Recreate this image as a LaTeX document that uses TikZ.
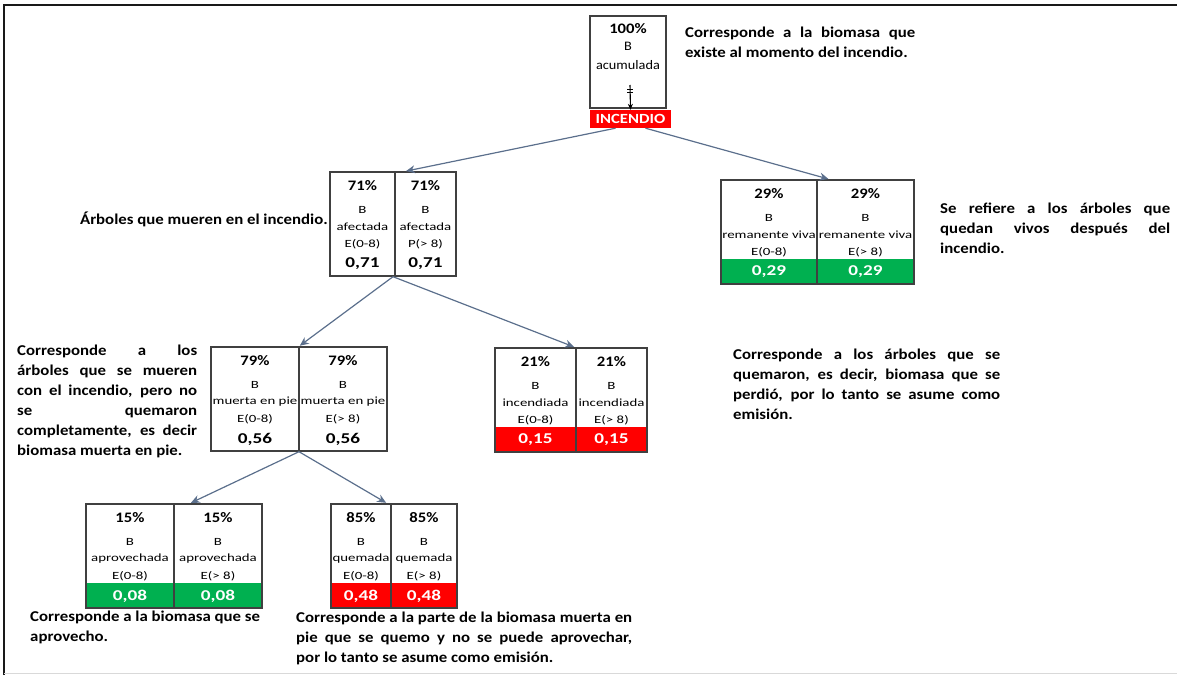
\documentclass[tikz,border=0pt]{standalone}
\usepackage{fontspec}
\setmainfont{Carlito}
\newfontfamily\notefont{Carlito}[FakeStretch=1.12]
\newfontfamily\pctfont{Carlito}[FakeStretch=1.15]
\newfontfamily\valfont{Carlito}[FakeStretch=1.28]
\newfontfamily\smallfont{Carlito}[FakeStretch=1.35]
\newfontfamily\midfont{Carlito}[FakeStretch=1.1]
\newfontfamily\incfont{Carlito}[FakeStretch=1.19]
\usetikzlibrary{arrows.meta,fit}
\definecolor{boxc}{HTML}{404040}
\definecolor{arrc}{HTML}{5B6F8C}
\definecolor{grn}{HTML}{00B050}
\definecolor{redc}{HTML}{FF0000}
\tikzset{
  boxline/.style={draw=boxc,line width=1.4pt},
  pct/.style={font=\pctfont\bfseries\fontsize{14.5}{16}\selectfont,inner sep=0pt},
  small/.style={font=\smallfont\fontsize{11}{12}\selectfont,inner sep=0pt},
  mid/.style={font=\midfont\fontsize{13}{15}\selectfont,inner sep=0pt},
  val/.style={font=\valfont\bfseries\fontsize{15}{16}\selectfont,inner sep=0pt},
  note/.style={font=\notefont\bfseries\fontsize{15}{20}\selectfont,inner sep=0pt,align=justify},
  arr/.style={draw=arrc,line width=1.2pt,-{Stealth[length=9pt,width=8pt]},shorten >=1pt},
}
% #1 name #2 x1 #3 xd #4 x2 #5 y1 #6 pct #7 label #8 value #9 band colour
\newcommand\pbox[9]{%
  \path[fill=#9] (#2,{#5+79}) rectangle (#4,{#5+104});
  \node[fit={(#2,#5) (#4,{#5+104})},inner sep=0pt,boxline] (#1) {};
  \draw[boxline] (#3,#5) -- (#3,{#5+104});
  \node[pct] at ({(#2+#3)/2},{#5+14}) {#6};
  \node[pct] at ({(#3+#4)/2},{#5+14}) {#6};
  \node[small] at ({(#2+#3)/2},{#5+38}) {B};
  \node[small] at ({(#3+#4)/2},{#5+38}) {B};
  \node[small] at ({(#2+#3)/2},{#5+55}) {#7};
  \node[small] at ({(#3+#4)/2},{#5+55}) {#7};
  \node[small] at ({(#2+#3)/2},{#5+72}) {E(0-8)};
  \node[small] at ({(#3+#4)/2},{#5+72}) {\Eright};
  \node[val] at ({(#2+#3)/2},{#5+92}) {#8};
  \node[val] at ({(#3+#4)/2},{#5+92}) {#8};
}
\begin{document}
\begin{tikzpicture}[x=1pt,y=-1pt]
\useasboundingbox (0,0) rectangle (1177,675);
% frame
\draw[line width=2pt,black!90] (4,675) -- (4,5) -- (1177,5);
\draw[line width=1.5pt,black!15] (4,673.5) -- (1177,673.5);

% top box
\node[fit={(590,16) (666,108)},inner sep=0pt,boxline] (acc) {};
\node[pct] at (628,29) {100\%};
\node[mid] at (628,46) {B};
\node[mid] at (628,65) {acumulada};
\node[fill=redc,text=white,font=\incfont\bfseries\fontsize{14}{15}\selectfont,minimum width=81pt,minimum height=18pt,inner sep=0pt] (inc) at (630.5,119) {INCENDIO};
\coordinate (accarr) at (630,85);
\draw[line width=1.1pt,-{Stealth[length=6pt,width=5pt]}] (accarr) -- (inc.north);
\draw[line width=0.8pt] (627,89) -- (633,89) (627,92) -- (633,92);

% boxes
\def\Eright{P(> 8)}
\pbox{a71}{330}{395}{456}{172}{71\%}{afectada}{0,71}{white}
\def\Eright{E(> 8)}
\pbox{r29}{721}{817}{914}{180}{29\%}{remanente viva}{\textcolor{white}{0,29}}{grn}
\pbox{m79}{211}{299}{387}{347}{79\%}{muerta en pie}{0,56}{white}
\pbox{i21}{495}{576}{647}{348}{21\%}{incendiada}{\textcolor{white}{0,15}}{redc}
\pbox{p15}{86}{174}{262}{504}{15\%}{aprovechada}{\textcolor{white}{0,08}}{grn}
\pbox{q85}{331}{391}{457}{504}{85\%}{quemada}{\textcolor{white}{0,48}}{redc}

% arrows
\draw[arr] ([xshift=-15pt]inc.south) -- ([xshift=12pt]a71.north);
\draw[arr] ([xshift=15pt]inc.south) -- ([xshift=12pt]r29.north);
\draw[arr] (a71.south) -- (m79.north);
\draw[arr] (a71.south) -- ([xshift=4pt]i21.north);
\draw[arr] (m79.south) -- ([xshift=16pt]p15.north);
\draw[arr] (m79.south) -- ([xshift=-7pt]q85.north);

% notes
\node[note,anchor=north west,text width=230pt] (n1) at (685,27) {Corresponde a la biomasa que\linebreak existe al momento del incendio.};
\node[note,anchor=east] (n2) at (328,219) {Árboles que mueren en el incendio.};
\node[note,anchor=north west,text width=230pt] (n3) at (940,203) {Se refiere a los árboles que\linebreak quedan vivos después del\linebreak incendio.};
\node[note,anchor=north west,text width=180pt] (n4) at (17,345) {Corresponde a los\linebreak árboles que se mueren\linebreak con el incendio, pero no\linebreak se quemaron\linebreak completamente, es decir\linebreak biomasa muerta en pie.};
\node[note,anchor=north west,text width=267pt] (n5) at (733,349) {Corresponde a los árboles que se\linebreak quemaron, es decir, biomasa que se\linebreak perdió, por lo tanto se asume como\linebreak emisión.};
\node[note,anchor=north west,align=left] (n6) at (30,611) {Corresponde a la biomasa que se\\aprovecho.};
\node[note,anchor=north west,text width=336pt] (n7) at (296,612) {Corresponde a la parte de la biomasa muerta en\linebreak pie que se quemo y no se puede aprovechar,\linebreak por lo tanto se asume como emisión.};
\end{tikzpicture}
\end{document}
